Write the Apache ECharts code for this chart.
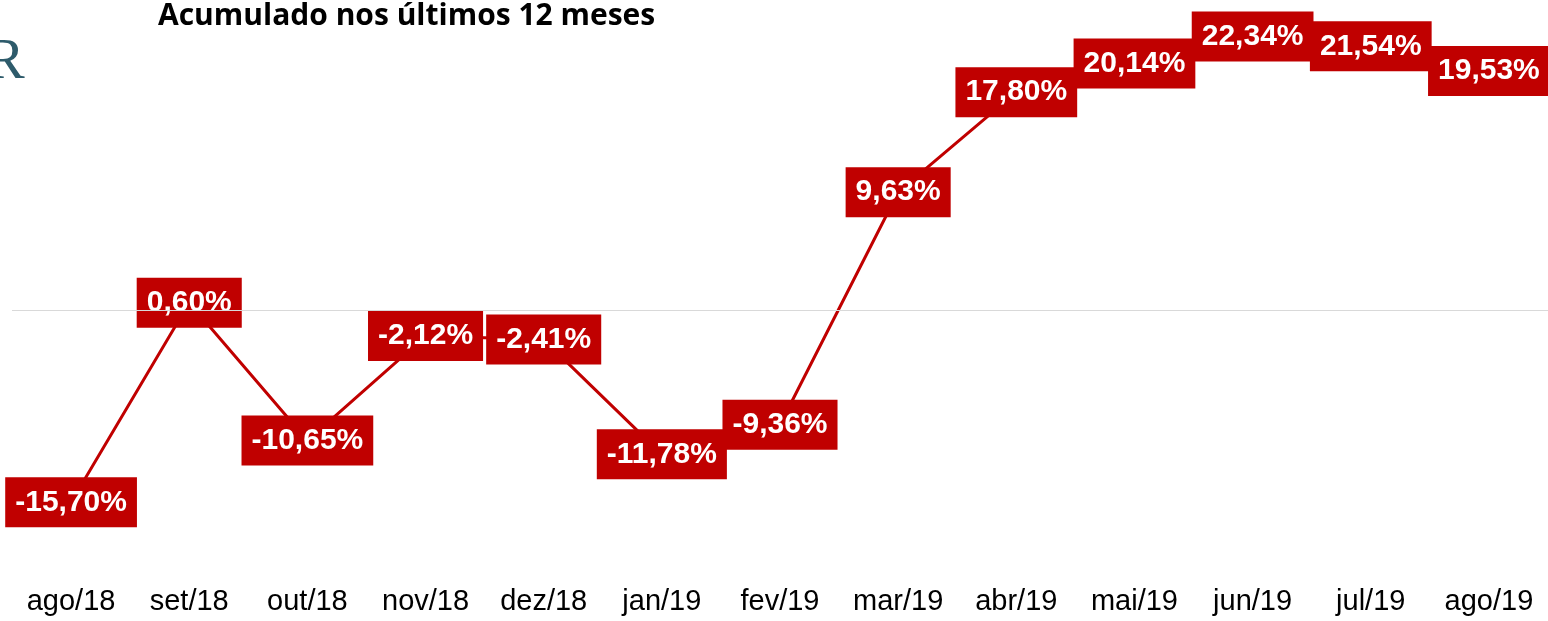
<!DOCTYPE html>
<html><head><meta charset="utf-8">
<script src="https://cdn.jsdelivr.net/npm/echarts@6/dist/echarts.min.js"></script>
<style>html,body{margin:0;padding:0;background:#fff}#c{width:1548px;height:621px}</style>
</head><body><div id="c"></div>
<script>
const categories = ['ago/18','set/18','out/18','nov/18','dez/18','jan/19','fev/19','mar/19','abr/19','mai/19','jun/19','jul/19','ago/19'];
const values = [-15.70, 0.60, -10.65, -2.12, -2.41, -11.78, -9.36, 9.63, 17.80, 20.14, 22.34, 21.54, 19.53];
const titleText = 'Acumulado nos últimos 12 meses';

const chart = echarts.init(document.getElementById('c'), null, {renderer:'canvas'});
chart.setOption({
  animation:false,
  backgroundColor:'#fff',
  title:{text:titleText,left:153,top:-4,textStyle:{fontFamily:'"Open Sans","Noto Sans",sans-serif',fontWeight:'bold',fontSize:30,color:'#000'}},
  graphic:[{type:'text',left:-14,top:34,style:{text:'R',font:'58px "Liberation Serif", serif',fill:'#2e5b6b'}}],
  grid:{left:12,right:0,top:4,bottom:66},
  xAxis:{type:'category',data:categories,boundaryGap:true,
    axisLine:{show:false},axisTick:{show:false},
    axisLabel:{fontFamily:'"Liberation Sans",Arial,sans-serif',fontSize:29,color:'#000',margin:32}},
  yAxis:{type:'value',min:-20,max:25,show:false,splitLine:{show:false}},
  series:[{type:'line',data:values,symbol:'circle',symbolSize:0.1,
    lineStyle:{color:'#c00000',width:3},itemStyle:{color:'#c00000'},
    label:{show:true,position:'inside',formatter:p=>p.value.toFixed(2).replace('.',',')+'%',
      color:'#fff',backgroundColor:'#c00000',fontWeight:'bold',fontSize:30,lineHeight:30,
      fontFamily:'"Liberation Sans",Arial,sans-serif',padding:[10,10,10,10]},
    markLine:{silent:true,symbol:'none',label:{show:false},lineStyle:{color:'#d9d9d9',width:1,type:'solid'},data:[{yAxis:0}]},
    z:3}]
});
</script></body></html>
